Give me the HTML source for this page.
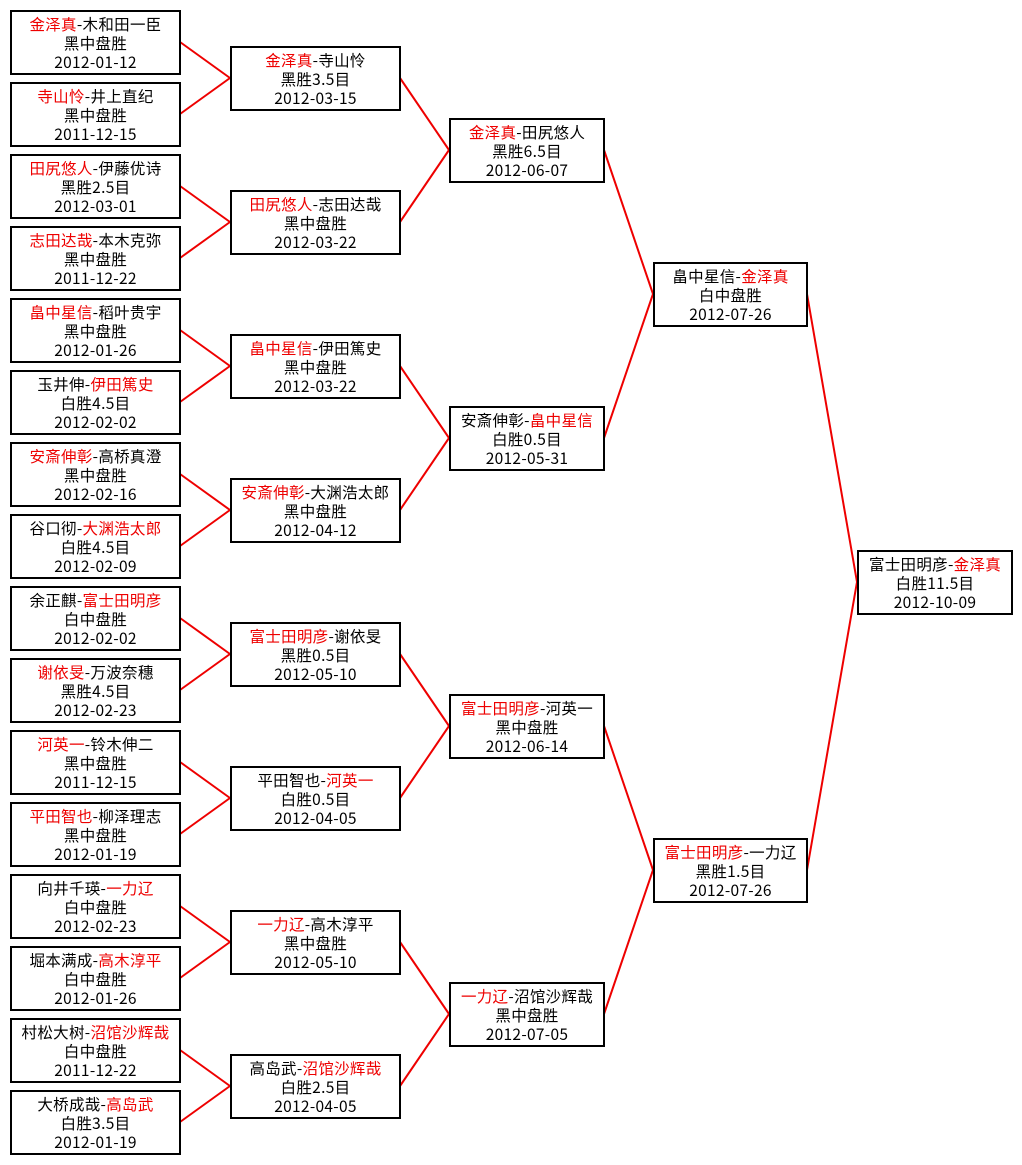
<!DOCTYPE html>
<html><head><meta charset="utf-8"><style>
body{margin:0;width:1022px;height:1165px;background:#fff;position:relative;overflow:hidden;font-family:"Noto Sans CJK SC","WenQuanYi Zen Hei",sans-serif;font-size:15.5px;color:#000}
.b{position:absolute;border:2px solid #000;box-sizing:border-box;height:65px;text-align:center;line-height:19px;padding-top:3px;background:#fff;white-space:nowrap;letter-spacing:0.3px}
.c1{left:10px;width:171px}.c2{left:230px;width:171px}.c3{left:449px;width:156px}.c4{left:653px;width:155px}.c5{left:857px;width:156px}
.r{color:#e00}
svg{position:absolute;left:0;top:0}
</style></head><body>
<svg width="1022" height="1165" stroke="#e00" stroke-width="2" fill="none">
<path d="M180 42L230 78M180 114L230 78M180 186L230 222M180 258L230 222M180 330L230 366M180 402L230 366M180 474L230 510M180 546L230 510M180 618L230 654M180 690L230 654M180 762L230 798M180 834L230 798M180 906L230 942M180 978L230 942M180 1050L230 1086M180 1122L230 1086
M400 78L449 150M400 222L449 150M400 366L449 438M400 510L449 438M400 654L449 726M400 798L449 726M400 942L449 1014M400 1086L449 1014
M604 150L653 294M604 438L653 294M604 726L653 870M604 1014L653 870
M807 294L857 582M807 870L857 582"/>
</svg>
<div class="b c1" style="top:10px"><span class="r">金泽真</span>-木和田一臣<br>黑中盘胜<br>2012-01-12</div>
<div class="b c1" style="top:82px"><span class="r">寺山怜</span>-井上直纪<br>黑中盘胜<br>2011-12-15</div>
<div class="b c1" style="top:154px"><span class="r">田尻悠人</span>-伊藤优诗<br>黑胜2.5目<br>2012-03-01</div>
<div class="b c1" style="top:226px"><span class="r">志田达哉</span>-本木克弥<br>黑中盘胜<br>2011-12-22</div>
<div class="b c1" style="top:298px"><span class="r">畠中星信</span>-稻叶贵宇<br>黑中盘胜<br>2012-01-26</div>
<div class="b c1" style="top:370px">玉井伸-<span class="r">伊田篤史</span><br>白胜4.5目<br>2012-02-02</div>
<div class="b c1" style="top:442px"><span class="r">安斎伸彰</span>-高桥真澄<br>黑中盘胜<br>2012-02-16</div>
<div class="b c1" style="top:514px">谷口彻-<span class="r">大渊浩太郎</span><br>白胜4.5目<br>2012-02-09</div>
<div class="b c1" style="top:586px">余正麒-<span class="r">富士田明彦</span><br>白中盘胜<br>2012-02-02</div>
<div class="b c1" style="top:658px"><span class="r">谢依旻</span>-万波奈穗<br>黑胜4.5目<br>2012-02-23</div>
<div class="b c1" style="top:730px"><span class="r">河英一</span>-铃木伸二<br>黑中盘胜<br>2011-12-15</div>
<div class="b c1" style="top:802px"><span class="r">平田智也</span>-柳泽理志<br>黑中盘胜<br>2012-01-19</div>
<div class="b c1" style="top:874px">向井千瑛-<span class="r">一力辽</span><br>白中盘胜<br>2012-02-23</div>
<div class="b c1" style="top:946px">堀本满成-<span class="r">高木淳平</span><br>白中盘胜<br>2012-01-26</div>
<div class="b c1" style="top:1018px">村松大树-<span class="r">沼馆沙辉哉</span><br>白中盘胜<br>2011-12-22</div>
<div class="b c1" style="top:1090px">大桥成哉-<span class="r">高岛武</span><br>白胜3.5目<br>2012-01-19</div>

<div class="b c2" style="top:46px"><span class="r">金泽真</span>-寺山怜<br>黑胜3.5目<br>2012-03-15</div>
<div class="b c2" style="top:190px"><span class="r">田尻悠人</span>-志田达哉<br>黑中盘胜<br>2012-03-22</div>
<div class="b c2" style="top:334px"><span class="r">畠中星信</span>-伊田篤史<br>黑中盘胜<br>2012-03-22</div>
<div class="b c2" style="top:478px"><span class="r">安斎伸彰</span>-大渊浩太郎<br>黑中盘胜<br>2012-04-12</div>
<div class="b c2" style="top:622px"><span class="r">富士田明彦</span>-谢依旻<br>黑胜0.5目<br>2012-05-10</div>
<div class="b c2" style="top:766px">平田智也-<span class="r">河英一</span><br>白胜0.5目<br>2012-04-05</div>
<div class="b c2" style="top:910px"><span class="r">一力辽</span>-高木淳平<br>黑中盘胜<br>2012-05-10</div>
<div class="b c2" style="top:1054px">高岛武-<span class="r">沼馆沙辉哉</span><br>白胜2.5目<br>2012-04-05</div>

<div class="b c3" style="top:118px"><span class="r">金泽真</span>-田尻悠人<br>黑胜6.5目<br>2012-06-07</div>
<div class="b c3" style="top:406px">安斎伸彰-<span class="r">畠中星信</span><br>白胜0.5目<br>2012-05-31</div>
<div class="b c3" style="top:694px"><span class="r">富士田明彦</span>-河英一<br>黑中盘胜<br>2012-06-14</div>
<div class="b c3" style="top:982px"><span class="r">一力辽</span>-沼馆沙辉哉<br>黑中盘胜<br>2012-07-05</div>

<div class="b c4" style="top:262px">畠中星信-<span class="r">金泽真</span><br>白中盘胜<br>2012-07-26</div>
<div class="b c4" style="top:838px"><span class="r">富士田明彦</span>-一力辽<br>黑胜1.5目<br>2012-07-26</div>

<div class="b c5" style="top:550px">富士田明彦-<span class="r">金泽真</span><br>白胜11.5目<br>2012-10-09</div>
</body></html>
